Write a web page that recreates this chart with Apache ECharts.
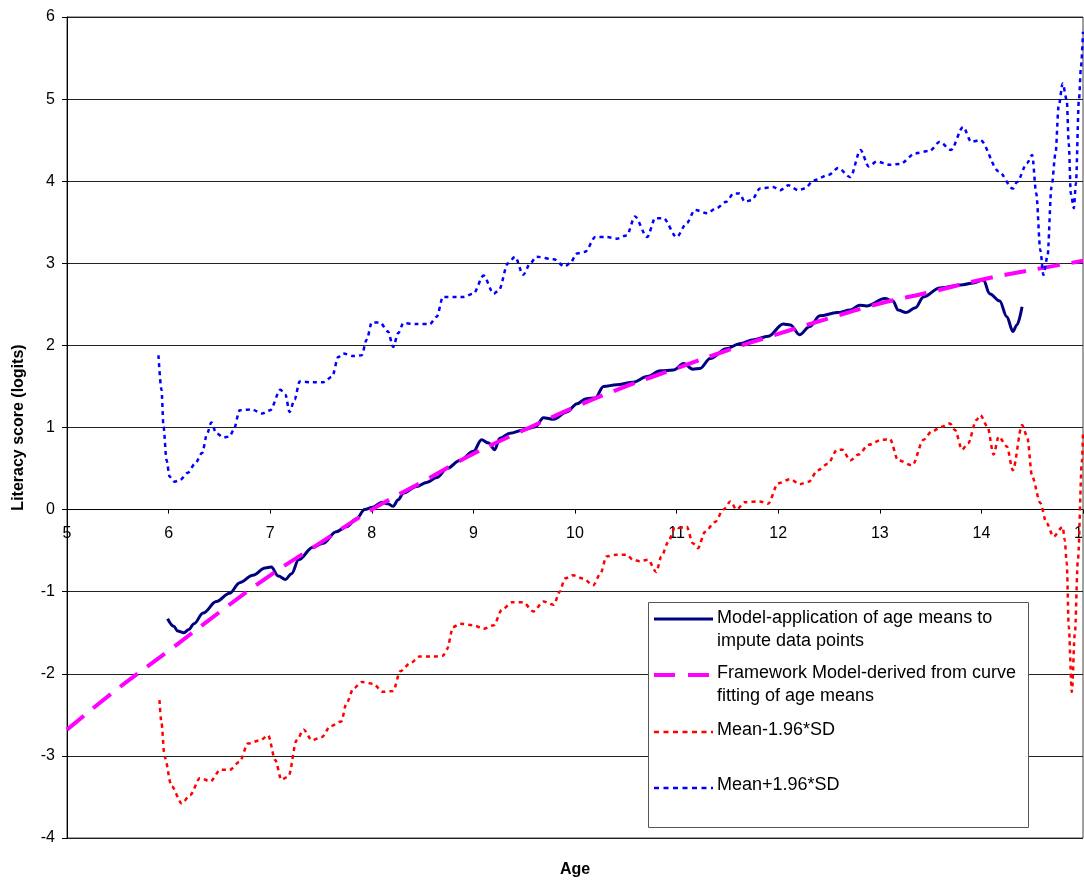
<!DOCTYPE html>
<html>
<head>
<meta charset="utf-8">
<script src="https://cdn.jsdelivr.net/npm/echarts@6/dist/echarts.min.js"></script>
<style>html,body{margin:0;padding:0;background:#fff}#c{width:1084px;height:880px}</style>
</head>
<body>
<div id="c"></div>
<script>
// ---- data ----
var modelAges = [5.99,6.05,6.09,6.15,6.20,6.25,6.34,6.47,6.60,6.70,6.83,6.95,7.01,7.08,7.15,7.21,7.28,7.42,7.52,7.65,7.75,7.85,7.93,8.01,8.10,8.16,8.21,8.26,8.31,8.44,8.54,8.64,8.74,8.87,9.00,9.08,9.15,9.21,9.26,9.36,9.49,9.61,9.69,9.79,9.92,10.02,10.11,10.20,10.28,10.41,10.57,10.71,10.84,10.97,11.07,11.16,11.23,11.33,11.49,11.62,11.76,11.90,12.05,12.12,12.21,12.31,12.41,12.58,12.71,12.80,12.87,13.05,13.13,13.18,13.26,13.35,13.43,13.59,13.82,13.92,14.02,14.08,14.18,14.25,14.31,14.35,14.40];
var modelValues = [-1.33,-1.42,-1.48,-1.50,-1.46,-1.39,-1.26,-1.12,-1.02,-0.89,-0.80,-0.71,-0.70,-0.81,-0.85,-0.78,-0.61,-0.46,-0.41,-0.27,-0.21,-0.11,0.00,0.03,0.09,0.07,0.04,0.12,0.20,0.28,0.33,0.39,0.50,0.60,0.71,0.85,0.81,0.73,0.87,0.93,0.97,1.01,1.12,1.10,1.19,1.29,1.35,1.36,1.50,1.52,1.55,1.62,1.69,1.70,1.78,1.71,1.72,1.84,1.96,2.02,2.07,2.11,2.26,2.25,2.13,2.23,2.36,2.40,2.43,2.49,2.48,2.57,2.54,2.43,2.40,2.46,2.59,2.70,2.74,2.76,2.80,2.63,2.54,2.35,2.17,2.25,2.47];

var frameAges = [5.0,5.5,6.0,6.5,7.0,7.5,8.0,8.5,9.0,9.5,10.0,10.5,11.0,11.5,12.0,12.5,13.0,13.5,14.0,14.5,15.0];
var frameValues = [-2.68,-2.18,-1.72,-1.25,-0.80,-0.40,0.00,0.34,0.68,0.97,1.25,1.50,1.72,1.94,2.14,2.33,2.51,2.65,2.80,2.92,3.03];

var lowAges = [5.91,5.93,5.96,6.03,6.13,6.21,6.31,6.41,6.51,6.60,6.70,6.78,6.90,6.98,7.05,7.11,7.18,7.26,7.33,7.41,7.51,7.59,7.70,7.75,7.82,7.90,8.01,8.11,8.21,8.28,8.38,8.47,8.61,8.70,8.74,8.80,8.87,9.00,9.10,9.20,9.28,9.38,9.49,9.59,9.69,9.79,9.85,9.90,9.98,10.08,10.18,10.25,10.31,10.41,10.51,10.57,10.64,10.72,10.80,10.85,10.92,10.98,11.10,11.16,11.21,11.28,11.38,11.46,11.53,11.59,11.67,11.82,11.90,12.00,12.12,12.21,12.30,12.39,12.49,12.58,12.63,12.71,12.79,12.89,13.02,13.10,13.18,13.32,13.43,13.51,13.61,13.69,13.74,13.81,13.87,13.95,13.99,14.06,14.12,14.17,14.25,14.31,14.40,14.45,14.50,14.58,14.64,14.71,14.80,14.82,14.84,14.86,14.89,14.92,14.95,14.99,15.00];
var lowValues = [-2.32,-2.60,-3.01,-3.37,-3.58,-3.48,-3.27,-3.31,-3.17,-3.17,-3.07,-2.85,-2.81,-2.75,-3.05,-3.29,-3.25,-2.81,-2.68,-2.81,-2.77,-2.64,-2.58,-2.36,-2.18,-2.10,-2.12,-2.22,-2.21,-1.97,-1.87,-1.79,-1.79,-1.78,-1.70,-1.43,-1.39,-1.41,-1.45,-1.41,-1.22,-1.13,-1.13,-1.24,-1.12,-1.16,-1.00,-0.84,-0.80,-0.84,-0.92,-0.78,-0.57,-0.55,-0.55,-0.61,-0.63,-0.61,-0.76,-0.57,-0.39,-0.23,-0.21,-0.41,-0.47,-0.27,-0.15,0.00,0.10,0.00,0.09,0.10,0.07,0.32,0.37,0.31,0.34,0.48,0.56,0.73,0.73,0.60,0.67,0.79,0.85,0.86,0.60,0.54,0.85,0.95,1.01,1.05,0.97,0.73,0.81,1.09,1.15,1.01,0.67,0.89,0.77,0.48,1.03,0.89,0.40,0.08,-0.16,-0.33,-0.21,-0.37,-0.65,-1.43,-2.22,-1.51,-0.61,0.60,0.93];

var highAges = [5.90,5.93,5.95,5.98,6.01,6.06,6.11,6.19,6.26,6.33,6.38,6.42,6.47,6.54,6.60,6.64,6.70,6.82,6.92,7.00,7.10,7.15,7.19,7.24,7.29,7.42,7.52,7.61,7.67,7.72,7.82,7.90,7.95,8.00,8.08,8.16,8.21,8.26,8.31,8.44,8.57,8.64,8.70,8.84,8.90,9.00,9.10,9.20,9.25,9.34,9.41,9.49,9.56,9.62,9.79,9.90,9.95,10.02,10.10,10.20,10.31,10.41,10.51,10.59,10.71,10.79,10.87,11.00,11.10,11.18,11.30,11.39,11.49,11.56,11.62,11.67,11.74,11.82,11.95,12.02,12.10,12.20,12.26,12.35,12.50,12.59,12.71,12.81,12.89,12.97,13.10,13.20,13.35,13.49,13.59,13.70,13.82,13.90,13.99,14.17,14.31,14.35,14.45,14.50,14.54,14.58,14.61,14.65,14.69,14.73,14.76,14.80,14.84,14.86,14.88,14.91,14.93,14.96,14.98,15.00];
var highValues = [1.88,1.46,1.01,0.60,0.40,0.34,0.36,0.45,0.56,0.69,0.93,1.06,0.93,0.88,0.89,0.97,1.21,1.22,1.17,1.21,1.46,1.40,1.19,1.34,1.56,1.55,1.55,1.62,1.86,1.90,1.87,1.88,2.07,2.28,2.28,2.17,1.98,2.15,2.27,2.26,2.26,2.35,2.59,2.59,2.59,2.63,2.85,2.63,2.67,3.00,3.08,2.86,3.00,3.08,3.05,2.96,3.00,3.12,3.14,3.32,3.32,3.30,3.34,3.57,3.32,3.55,3.55,3.32,3.49,3.65,3.61,3.67,3.75,3.85,3.85,3.75,3.77,3.91,3.93,3.89,3.95,3.89,3.91,4.01,4.08,4.16,4.05,4.38,4.18,4.24,4.20,4.21,4.34,4.37,4.48,4.38,4.66,4.48,4.50,4.12,3.91,3.99,4.22,4.32,3.85,3.16,2.86,3.08,3.93,4.34,4.91,5.19,4.99,4.46,3.85,3.67,3.97,4.99,5.39,5.82];

var seriesNames = ['Model-application of age means to impute data points','Framework Model-derived from curve fitting of age means','Mean-1.96*SD','Mean+1.96*SD'];
var legendLines = [['Model-application of age means to','impute data points'],['Framework Model-derived from curve','fitting of age means'],['Mean-1.96*SD'],['Mean+1.96*SD']];
var xTicks = {min:5, max:15, step:1};
var yTicks = {min:-4, max:6, step:1};

function pairs(a, b){ return a.map(function(x,i){ return [x, b[i]]; }); }

var FONT = 'Liberation Sans, Arial, sans-serif';
var W = 1084, H = 880;
var gridBox = {left:67, right:1, top:17, bottom:42};
var gridH = H - gridBox.top - gridBox.bottom;
// x axis sits on the y = 0 line (Excel style crossing)
var xAxisOffset = -gridH * (0 - yTicks.min) / (yTicks.max - yTicks.min);

var chart = echarts.init(document.getElementById('c'), null, {renderer:'canvas', width:W, height:H});

var legendStyles = [
  {color:'#000080', width:3, dash:null, y:619},
  {color:'#FF00FF', width:4, dash:[21,13], y:675},
  {color:'#FF0000', width:2.5, dash:[5,4.5], y:732},
  {color:'#0000FF', width:2.5, dash:[5,4.5], y:788}
];
var legendTextY = [607, 662, 719, 774];
var gfx = [{
  type:'rect', z:100, shape:{x:648.5, y:602.5, width:380, height:225},
  style:{fill:'#fff', stroke:'#555', lineWidth:1}
}];
legendStyles.forEach(function(s, i){
  gfx.push({type:'line', z:101, shape:{x1:654, y1:s.y, x2:713, y2:s.y},
    style:{stroke:s.color, lineWidth:s.width, lineDash:s.dash}});
  gfx.push({type:'text', z:101, style:{x:717, y:legendTextY[i], text:legendLines[i].join('\n'),
    font:'18px ' + FONT, fill:'#000', lineHeight:23, verticalAlign:'top', align:'left'}});
});
gfx.push({type:'text', z:101, style:{x:575, y:870, text:'Age', font:'bold 16px ' + FONT,
  fill:'#000', align:'center', verticalAlign:'middle'}});

chart.setOption({
  animation:false,
  backgroundColor:'#fff',
  grid:{left:gridBox.left, right:gridBox.right, top:gridBox.top, bottom:gridBox.bottom, show:true,
    borderColor:'#404040', borderWidth:1, containLabel:false, outerBoundsMode:'none'},
  xAxis:{
    type:'value', min:xTicks.min, max:xTicks.max, interval:xTicks.step,
    position:'bottom', offset:xAxisOffset,
    axisLine:{show:true, onZero:false, lineStyle:{color:'#000', width:1}},
    axisTick:{show:true, length:4, lineStyle:{color:'#000'}},
    axisLabel:{color:'#000', fontSize:16, fontFamily:FONT, margin:16, showMinLabel:true, showMaxLabel:true, hideOverlap:false},
    splitLine:{show:false}
  },
  yAxis:{
    type:'value', min:yTicks.min, max:yTicks.max, interval:yTicks.step,
    name:'Literacy score (logits)', nameLocation:'middle', nameGap:40, nameRotate:90,
    nameTextStyle:{color:'#000', fontSize:16, fontWeight:'bold', fontFamily:FONT},
    axisLine:{show:true, onZero:false, lineStyle:{color:'#000', width:1}},
    axisTick:{show:true, length:5, lineStyle:{color:'#000'}},
    axisLabel:{color:'#000', fontSize:16, fontFamily:FONT, margin:12},
    splitLine:{show:true, lineStyle:{color:'#222', width:1}}
  },
  series:[
    {name:seriesNames[0], type:'line', data:pairs(modelAges, modelValues), showSymbol:false, symbol:'none',
      smooth:0.35, smoothMonotone:'x', lineStyle:{color:'#000080', width:3}, z:2},
    {name:seriesNames[1], type:'line', data:pairs(frameAges, frameValues), showSymbol:false, symbol:'none',
      smooth:0.4, lineStyle:{color:'#FF00FF', width:4, type:[22,12]}, z:3},
    {name:seriesNames[2], type:'line', data:pairs(lowAges, lowValues), showSymbol:false, symbol:'none',
      smooth:0.3, smoothMonotone:'x', lineStyle:{color:'#FF0000', width:2.5, type:[4,4]}, z:4},
    {name:seriesNames[3], type:'line', data:pairs(highAges, highValues), showSymbol:false, symbol:'none',
      smooth:0.3, smoothMonotone:'x', lineStyle:{color:'#0000FF', width:2.5, type:[4,4]}, z:5}
  ],
  graphic:gfx
});
</script>
</body>
</html>
